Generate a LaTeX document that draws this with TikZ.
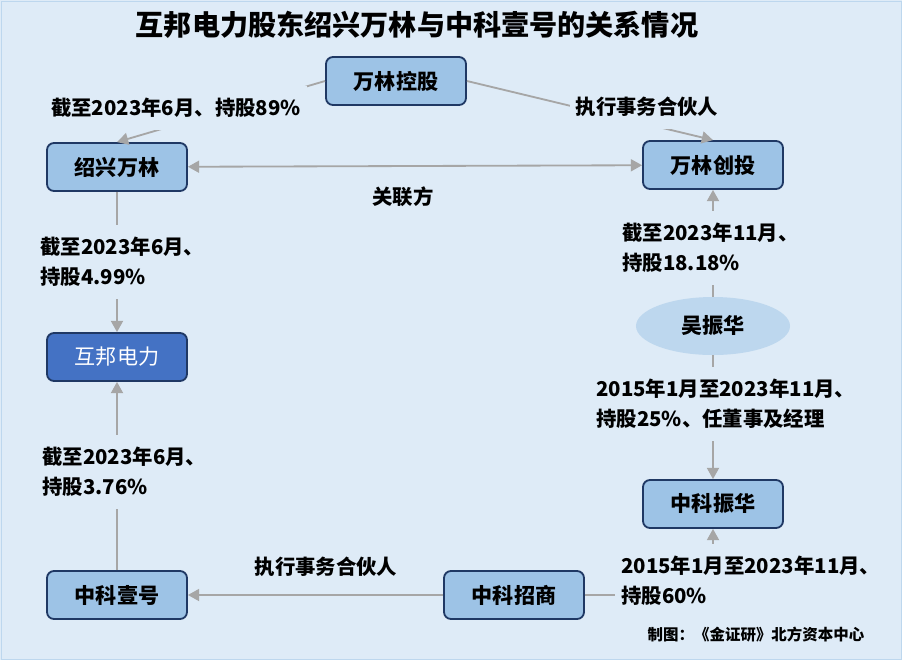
\documentclass[tikz,border=0pt]{standalone}
\usepackage{fontspec}
\setmainfont{Noto Sans CJK SC}
\usetikzlibrary{shapes.geometric, arrows.meta}

\definecolor{bgblue}{HTML}{DEEBF7}
\definecolor{boxblue}{HTML}{9DC3E6}
\definecolor{darkblue}{HTML}{4472C4}
\definecolor{paleblue}{HTML}{BDD7EE}
\definecolor{navy}{HTML}{1F3864}
\definecolor{linkgray}{HTML}{A6A6A6}

\tikzset{
    box/.style={draw=navy, fill=boxblue, rounded corners=5pt, line width=1.3pt,
        minimum width=3.5cm, minimum height=1.2cm,
        font=\fontsize{15}{18}\selectfont\bfseries},
    lbl/.style={fill=bgblue, inner xsep=0.15cm, inner ysep=0.3cm, align=left,
        font=\fontsize{14.5}{21.3}\selectfont\bfseries},
    link/.style={draw=linkgray, line width=1.3pt},
    tip/.style={-{Triangle[length=0.28cm, width=0.3cm]}},
}

\begin{document}
\begin{tikzpicture}[x=0.025cm, y=-0.025cm]
    % Background
    \useasboundingbox (0,0) rectangle (902,660);
    \fill[bgblue] (0,0) rectangle (902,660);
    \draw[paleblue, line width=0.6pt] (1,1) rectangle (901,659);

    % Title
    \node (title) at (417,25) {\fontsize{20}{24}\selectfont\bfseries 互邦电力股东绍兴万林与中科壹号的关系情况};

    % Companies
    \node[box] (wlkg) at (396,81) {万林控股};
    \node[box] (sxwl) at (117,167) {绍兴万林};
    \node[box] (wlct) at (713,165) {万林创投};
    \node[box, fill=darkblue, text=white, font=\fontsize{15}{18}\selectfont] (hbdl) at (117,357) {互邦电力};
    \node[box] (zkzh) at (713,504) {中科振华};
    \node[box] (zkyh) at (117,595) {中科壹号};
    \node[box] (zkzs) at (514,595) {中科招商};

    % Person
    \node[ellipse, fill=paleblue, minimum width=3.85cm, minimum height=1.45cm,
        font=\fontsize{15}{18}\selectfont\bfseries] (wzh) at (713,326) {吴振华};

    % Connectors
    \draw[link, tip] (wlkg.west) -- (sxwl.north);
    \draw[link, tip] (wlkg.east) -- (wlct.north);
    \draw[link, {Triangle[length=0.28cm, width=0.3cm]}-{Triangle[length=0.28cm, width=0.3cm]}] (sxwl) -- (wlct);
    \draw[link, tip] (sxwl) -- (hbdl);
    \draw[link, tip] (zkyh) -- (hbdl);
    \draw[link, tip] (zkzs) -- (zkyh);
    \draw[link, tip] (zkzs.east) -| (zkzh.south);
    \draw[link, tip] (wzh) -- (wlct);
    \draw[link, tip] (wzh) -- (zkzh);

    % Labels (drawn over the connectors)
    \node[lbl] (l1) at (176,108) {截至2023年6月、持股89\%};
    \node[lbl] (l2) at (647,107) {执行事务合伙人};
    \node[lbl] (l3) at (403,197) {关联方};
    \node[lbl, anchor=west] (l4) at (34,262) {截至2023年6月、\\持股4.99\%};
    \node[lbl, anchor=west] (l5) at (616,248) {截至2023年11月、\\持股18.18\%};
    \node[lbl, anchor=west] (l6) at (590,404) {2015年1月至2023年11月、\\持股25\%、任董事及经理};
    \node[lbl, anchor=west] (l7) at (36,472) {截至2023年6月、\\持股3.76\%};
    \node[lbl] (l8) at (326,567) {执行事务合伙人};
    \node[lbl, anchor=west] (l9) at (615,581) {2015年1月至2023年11月、\\持股60\%};

    % Source
    \node (src) at (756,635) {\fontsize{11}{13}\selectfont\bfseries 制图：《金证研》北方资本中心};
\end{tikzpicture}
\end{document}
